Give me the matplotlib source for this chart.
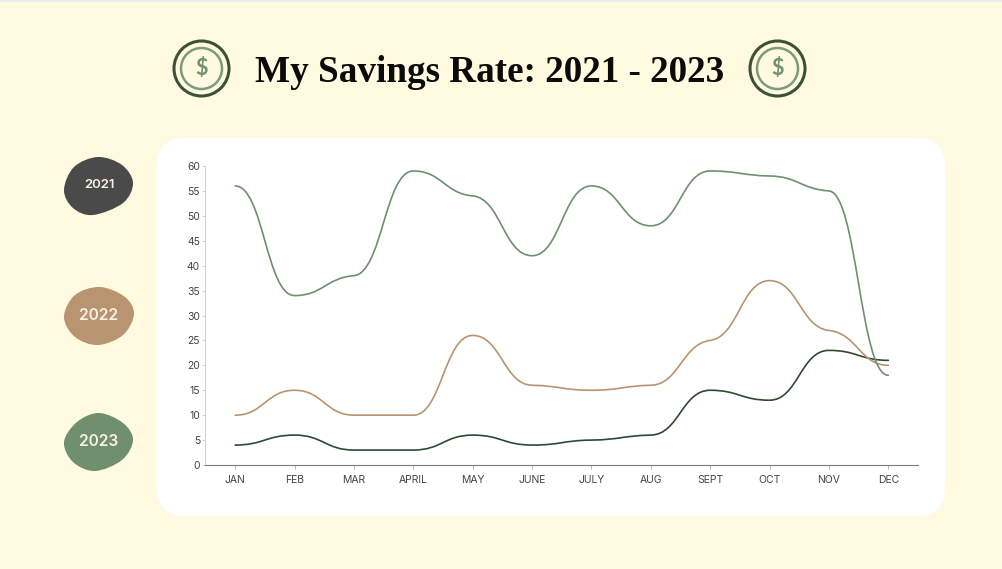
import numpy as np
import matplotlib
matplotlib.use("Agg")
import matplotlib.pyplot as plt
from matplotlib.path import Path
from matplotlib.patches import PathPatch, FancyBboxPatch, Circle, Rectangle

months = ["JAN", "FEB", "MAR", "APRIL", "MAY", "JUNE", "JULY", "AUG", "SEPT", "OCT", "NOV", "DEC"]
rate_2021 = [4, 6, 3, 3, 6, 4, 5, 6, 15, 13, 23, 21]
rate_2022 = [10, 15, 10, 10, 26, 16, 15, 16, 25, 37, 27, 20]
rate_2023 = [56, 34, 38, 59, 54, 42, 56, 48, 59, 58, 55, 18]
y_ticks = list(range(0, 65, 5))
years = ["2021", "2022", "2023"]
title = "My Savings Rate: 2021 - 2023"

BG = "#FFFAE0"
DARK = "#2F4A33"
TAN = "#B89470"
GREEN = "#6F8F6F"
BLOB_DARK = "#4A4A4A"
W, H = 1003, 569

# blob outlines, clockwise from the top, pixels
blob_2021 = [(98, 157), (122, 165), (133, 183), (123, 203), (93, 215), (73, 208), (64, 190), (74, 167)]
blob_2022 = [(100, 287), (125, 297), (134, 314), (123, 335), (98, 345), (75, 337), (64, 317), (75, 295)]
blob_2023 = [(99, 413), (123, 423), (133, 440), (122, 460), (95, 471), (73, 462), (64, 442), (77, 422)]


def smooth_path(x, y):
    # nearly flat at every month, only a small slope kept for the shoulders
    x = np.asarray(x, float)
    y = np.asarray(y, float)
    d = np.diff(y) / np.diff(x)
    m = np.zeros(len(x))
    for i in range(1, len(x) - 1):
        if d[i - 1] * d[i] > 0:
            m[i] = 0.15 * 2 * d[i - 1] * d[i] / (d[i - 1] + d[i])
    verts = [(x[0], y[0])]
    codes = [Path.MOVETO]
    for i in range(len(x) - 1):
        h = (x[i + 1] - x[i]) / 2.1
        verts += [(x[i] + h, y[i] + m[i] * h), (x[i + 1] - h, y[i + 1] - m[i + 1] * h), (x[i + 1], y[i + 1])]
        codes += [Path.CURVE4] * 3
    return Path(verts, codes)


def blob_path(points):
    # closed catmull-rom through the outline points
    pts = np.asarray(points, float)
    n = len(pts)
    verts = [pts[0]]
    codes = [Path.MOVETO]
    for i in range(n):
        p0, p1, p2, p3 = pts[i - 1], pts[i], pts[(i + 1) % n], pts[(i + 2) % n]
        verts += [p1 + (p2 - p0) / 6, p2 - (p3 - p1) / 6, p2]
        codes += [Path.CURVE4] * 3
    return Path(verts, codes)


fig = plt.figure(figsize=(W / 100, H / 100), dpi=100, facecolor=BG)

# page furniture drawn in pixel coordinates
bg = fig.add_axes([0, 0, 1, 1])
bg.set_xlim(0, W)
bg.set_ylim(H, 0)
bg.axis("off")
bg.add_patch(Rectangle((0, 0), W, 2, fc="#E8ECEC", ec="none"))
bg.add_patch(FancyBboxPatch((157 + 28, 138 + 28), 788 - 56, 378 - 56,
                            boxstyle="round,pad=28,rounding_size=28", fc="white", ec="none"))

bg.text(489.5, 82, title, ha="center", va="baseline", fontsize=26.7, fontweight="bold",
        family="Liberation Serif", color="#0B0B0B")

for cx in [201.5, 777.5]:
    bg.add_patch(Circle((cx, 68.5), 27.5, fc="none", ec="#3C5238", lw=2.2))
    bg.add_patch(Circle((cx, 68.5), 20.5, fc="none", ec="#7C9C7C", lw=1.8))
    bg.text(cx, 68.5, "$", ha="center", va="center", fontsize=15.5, color="#6F9270",
            family="Lato", fontweight="bold")

blob_colors = [BLOB_DARK, TAN, GREEN]
blob_shapes = [blob_2021, blob_2022, blob_2023]
label_y = [185, 315, 441]
label_size = [9.5, 11.2, 11.2]
for name, col, shape, ly, fs in zip(years, blob_colors, blob_shapes, label_y, label_size):
    bg.add_patch(PathPatch(blob_path(shape), fc=col, ec="none"))
    bg.text(99, ly, name, ha="center", va="center", color="#F6F1E4", fontsize=fs,
            family="Inter", fontweight="semibold")

# chart
left, right = 205.5, 918
top, bottom = 166, 465
ax = fig.add_axes([left / W, 1 - bottom / H, (right - left) / W, (bottom - top) / H])
ax.patch.set_alpha(0)
pos = np.arange(len(months))
ax.set_xlim(-0.5, len(months) - 0.5)
ax.set_ylim(0, 60)

for vals, col in [(rate_2021, DARK), (rate_2022, TAN), (rate_2023, GREEN)]:
    ax.add_patch(PathPatch(smooth_path(pos, vals), fc="none", ec=col, lw=1.2, capstyle="round"))

ax.set_xticks(pos)
ax.set_xticklabels(months)
ax.set_yticks(y_ticks)
for s in ["top", "right"]:
    ax.spines[s].set_visible(False)
ax.spines["left"].set_color("#CFCFCF")
ax.spines["left"].set_linewidth(0.8)
ax.spines["bottom"].set_color("#7A7A7A")
ax.spines["bottom"].set_linewidth(0.8)
ax.tick_params(axis="x", length=3, width=0.6, color="#AAAAAA", pad=4)
ax.tick_params(axis="y", length=2, width=0.6, color="#CCCCCC", pad=2)
for lab in ax.get_xticklabels() + ax.get_yticklabels():
    lab.set_family("Inter")
    lab.set_fontsize(7.5)
    lab.set_color("#444444")

fig.savefig("out.png", dpi=100, facecolor=BG)
